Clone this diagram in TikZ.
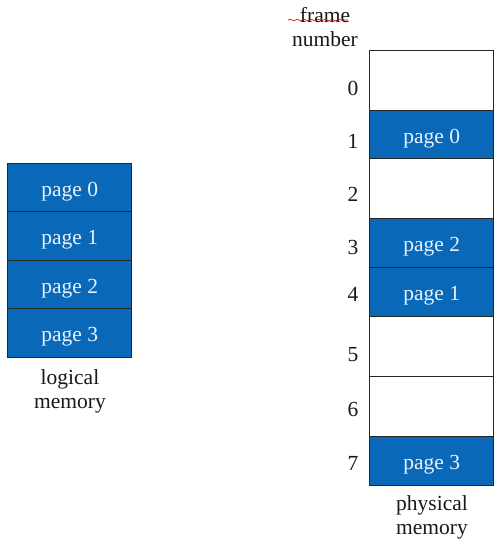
\documentclass[tikz,border=0pt]{standalone}
\usepackage{fontspec}
\setmainfont{Liberation Serif}
\usetikzlibrary{decorations.pathmorphing}
\definecolor{pgblue}{HTML}{0A68B8}
\definecolor{pgtext}{HTML}{E8F2FF}
\begin{document}
\begin{tikzpicture}[x=1pt,y=-1pt,
  cell/.style={draw=black!85,line width=1.3pt,minimum width=124pt,anchor=north west,inner sep=0pt},
  usedcell/.style={cell,fill=pgblue,text=pgtext,font=\fontsize{21.5}{25}\selectfont,text height=17pt,text depth=0pt},
  freecell/.style={cell,fill=white},
  num/.style={font=\fontsize{21.5}{25}\selectfont,text=black!90},
  captxt/.style={font=\fontsize{21.5}{24}\selectfont,text=black!90,align=center}]
\useasboundingbox (0,0) rectangle (500,552);
\fill[white] (0,0) rectangle (500,552);
% logical memory
\node[usedcell,minimum height=49pt] (l0) at (7,163) {page 0};
\node[usedcell,minimum height=49pt] (l1) at (7,211) {page 1};
\node[usedcell,minimum height=49pt] (l2) at (7,260) {page 2};
\node[usedcell,minimum height=49pt] (l3) at (7,308) {page 3};
\node[captxt] (lcap) at (70,391) {logical\\memory};
% physical memory
\node[freecell,minimum height=60pt] (f0) at (369,50) {};
\node[usedcell,minimum height=48pt] (f1) at (369,110) {page 0};
\node[freecell,minimum height=60pt] (f2) at (369,158) {};
\node[usedcell,minimum height=49pt] (f3) at (369,218) {page 2};
\node[usedcell,minimum height=49pt] (f4) at (369,267) {page 1};
\node[freecell,minimum height=60pt] (f5) at (369,316) {};
\node[freecell,minimum height=60pt] (f6) at (369,376) {};
\node[usedcell,minimum height=49pt] (f7) at (369,436) {page 3};
\node[captxt] (pcap) at (432,517) {physical\\memory};
\node[captxt] (fcap) at (325,27) {frame\\number};
\draw[red!80!black,line width=0.6pt,decorate,decoration={snake,amplitude=0.8pt,segment length=7pt}] (288,20) -- (348,20);
% frame numbers
\node[num] (n0) at (353,88) {0};
\node[num] (n1) at (353,141) {1};
\node[num] (n2) at (353,194) {2};
\node[num] (n3) at (353,247) {3};
\node[num] (n4) at (353,294) {4};
\node[num] (n5) at (353,355) {5};
\node[num] (n6) at (353,409) {6};
\node[num] (n7) at (353,463) {7};
\end{tikzpicture}
\end{document}
